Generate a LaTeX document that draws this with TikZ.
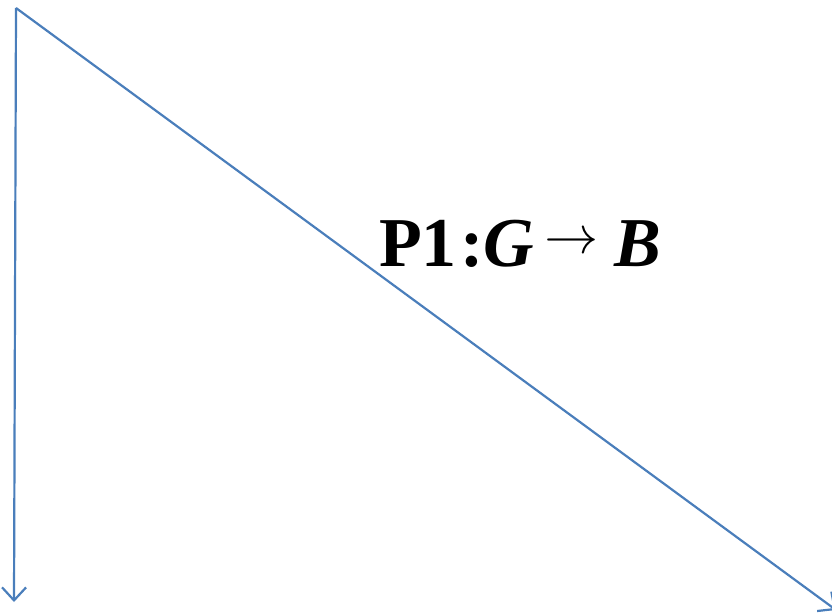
\documentclass[tikz,border=0pt]{standalone}
\usepackage{unicode-math}
\setmainfont{Liberation Serif}
\setmathfont{Latin Modern Math}
\usetikzlibrary{arrows.meta}
\definecolor{lineblue}{HTML}{4A7EBB}
\tikzset{
  conn/.style={draw=lineblue, line width=2.2pt, -{Straight Barb[length=13pt,width=24pt,line width=2.2pt]}},
  lbl/.style={font=\fontsize{70}{76}\selectfont, inner sep=0pt, anchor=base west}
}
\begin{document}
\begin{tikzpicture}[x=1pt,y=-1pt]
\useasboundingbox (0,0) rectangle (832,613);
\clip (0,0) rectangle (832,613);
\coordinate (o) at (16,8);
\coordinate (down) at (14,602);
\coordinate (diag) at (836,610);
\draw[conn] (o) -- (down);
\draw[conn] (o) -- (diag);
\node[lbl] (p1) at (379,266) {\textbf{P1}};
\node[lbl] (colon) at (460,266) {\textbf{:}};
\node[lbl] (g) at (483,266) {\textbf{\textit{G}}};
\node[inner sep=0pt, font=\fontsize{54}{56}\selectfont] (arr) at (571,240) {$\rightarrow$};
\node[lbl] (b) at (614,266) {\textbf{\textit{B}}};
\end{tikzpicture}
\end{document}
